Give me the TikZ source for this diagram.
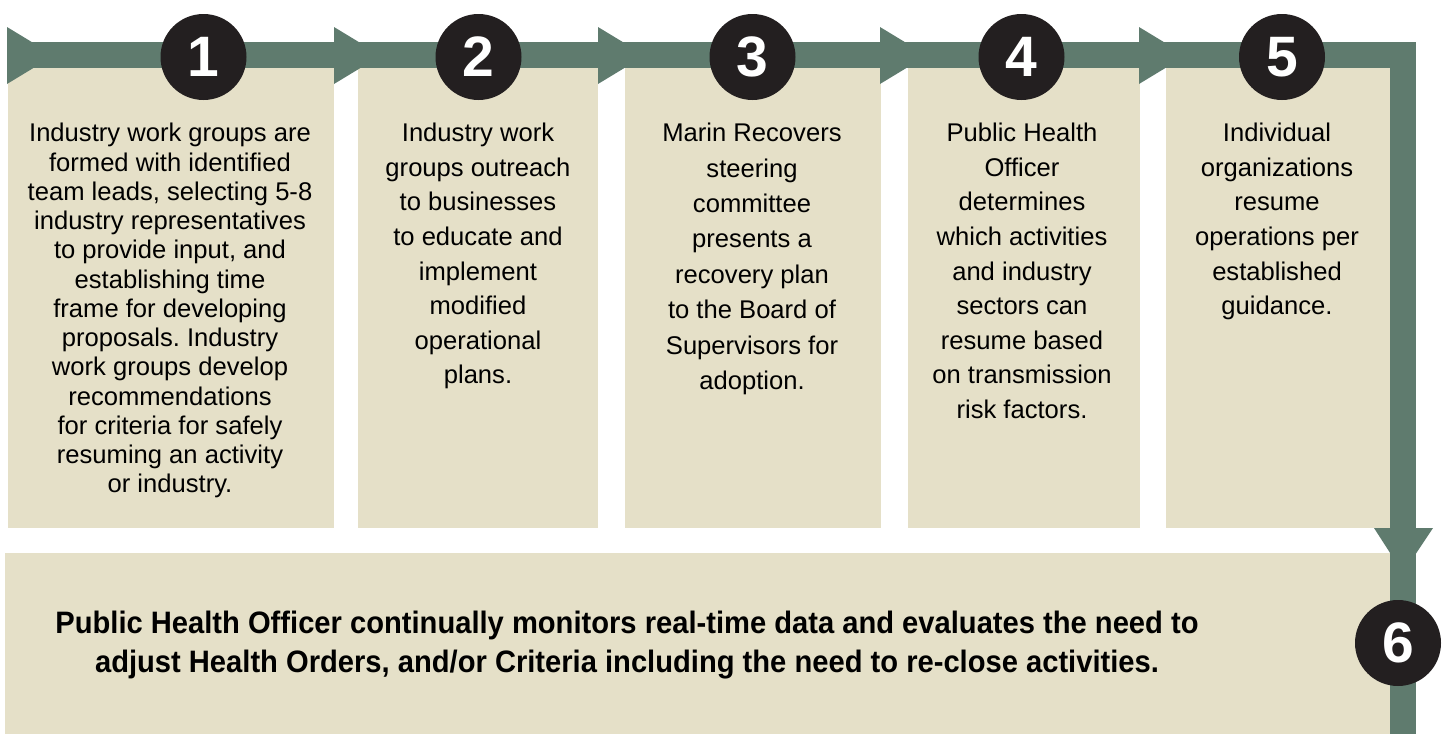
\documentclass[tikz,border=0pt]{standalone}
\usepackage{fontspec}
\setmainfont{Liberation Sans}
\newfontfamily\condfont[FakeStretch=0.94]{Liberation Sans}
\frenchspacing
\definecolor{band}{HTML}{5F7B6E}
\definecolor{beige}{HTML}{E5E0C8}
\definecolor{dark}{HTML}{231F20}
\tikzset{
  panel/.style={fill=beige, draw=none, inner sep=0, anchor=north west},
  flow/.style={line width=26pt, draw=band, line join=miter},
  tri/.style={fill=band},
  stepnum/.style={circle, fill=dark, minimum size=86pt, inner sep=0, text=white,
    font=\fontsize{57}{57}\selectfont\bfseries},
  steptext/.style={anchor=north, align=center, inner sep=0,
    font=\fontsize{25.6}{34.6}\selectfont},
  finaltext/.style={anchor=north, align=center, inner sep=0,
    font=\condfont\bfseries\fontsize{31}{38.5}\selectfont},
  rtri/.pic={\fill[tri] (0,-28.5) -- (47,0) -- (0,28.5) -- cycle;},
}
\begin{document}
\begin{tikzpicture}[x=1pt,y=-1pt]
\useasboundingbox (0,0) rectangle (1444,734);
% flow band
\coordinate (start) at (7,55);
\coordinate (corner) at (1403,55);
\coordinate (finish) at (1403,734);
\draw[flow] (start) -- (corner) -- (finish);
% panels
\node[panel, minimum width=326, minimum height=460] (b1) at (8,68) {};
\node[panel, minimum width=240, minimum height=460] (b2) at (358,68) {};
\node[panel, minimum width=256, minimum height=460] (b3) at (625,68) {};
\node[panel, minimum width=232, minimum height=460] (b4) at (908,68) {};
\node[panel, minimum width=224, minimum height=460] (b5) at (1166,68) {};
\node[panel, minimum width=1385, minimum height=181] (b6) at (5,553) {};
% arrowheads
\pic at (7,55.5) {rtri};
\pic at (334,55.5) {rtri};
\pic at (598,55.5) {rtri};
\pic at (880,55.5) {rtri};
\pic at (1139,55.5) {rtri};
\fill[tri] (1374,528) -- (1433,528) -- (1403,573) -- cycle;
% numbers
\node[stepnum] (n1) at (203.5,57) {1};
\node[stepnum] (n2) at (478.5,57) {2};
\node[stepnum] (n3) at (752.5,57) {3};
\node[stepnum] (n4) at (1021.5,57) {4};
\node[stepnum] (n5) at (1282,57) {5};
\node[stepnum] (n6) at (1398,643) {6};
% texts
\node[steptext, font=\fontsize{25.6}{29.25}\selectfont] (t1) at (170,123) {Industry work groups are\\formed with identified\\team leads, selecting 5-8\\industry representatives\\to provide input, and\\establishing time\\frame for developing\\proposals. Industry\\work groups develop\\recommendations\\for criteria for safely\\resuming an activity\\or industry.};
\node[steptext] (t2) at (478,123) {Industry work\\groups outreach\\to businesses\\to educate and\\implement\\modified\\operational\\plans.};
\node[steptext, font=\fontsize{25.6}{35.4}\selectfont] (t3) at (752,123) {Marin Recovers\\steering\\committee\\presents a\\recovery plan\\to the Board of\\Supervisors for\\adoption.};
\node[steptext] (t4) at (1022,123) {Public Health\\Officer\\determines\\which activities\\and industry\\sectors can\\resume based\\on transmission\\risk factors.};
\node[steptext] (t5) at (1277,123) {Individual\\organizations\\resume\\operations per\\established\\guidance.};
\node[finaltext] (t6) at (627,611) {Public Health Officer continually monitors real-time data and evaluates the need to\\adjust Health Orders, and/or Criteria including the need to re-close activities.};
\end{tikzpicture}
\end{document}
